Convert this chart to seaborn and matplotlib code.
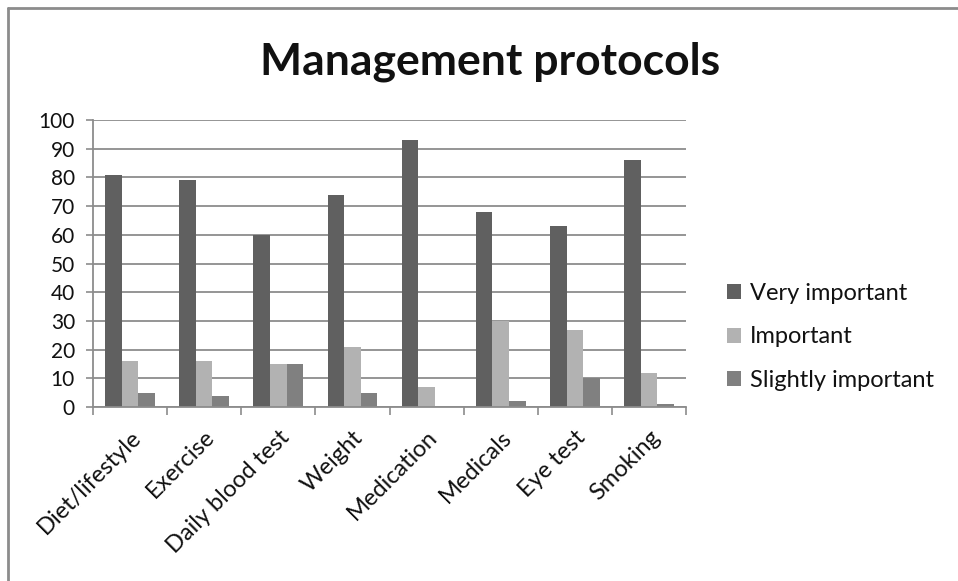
import matplotlib
matplotlib.use("Agg")
import matplotlib.pyplot as plt
import seaborn as sns
import pandas as pd
import numpy as np
from matplotlib.lines import Line2D
from matplotlib.patches import Patch

categories = ["Diet/lifestyle", "Exercise", "Daily blood test", "Weight",
              "Medication", "Medicals", "Eye test", "Smoking"]
very_important = [81, 79, 60, 74, 93, 68, 63, 86]
important = [16, 16, 15, 21, 7, 30, 27, 12]
slightly_important = [5, 4, 15, 5, 0, 2, 10, 1]
series_names = ["Very important", "Important", "Slightly important"]
colors = ["#606060", "#b2b2b2", "#808080"]
yticks = list(range(0, 101, 10))

df = pd.DataFrame({
    "category": categories * 3,
    "value": very_important + important + slightly_important,
    "series": [series_names[0]] * 8 + [series_names[1]] * 8 + [series_names[2]] * 8,
})

sns.set_style("white")
plt.rcParams["font.family"] = ["Lato", "DejaVu Sans"]
plt.rcParams["text.color"] = "#111111"
plt.rcParams["xtick.labelcolor"] = "#111111"
plt.rcParams["ytick.labelcolor"] = "#111111"

fig = plt.figure(figsize=(9.58, 5.81), dpi=100)
ax = fig.add_axes([93/958, 1 - 407/581, (686-93)/958, (407-120)/581])

sns.barplot(data=df, x="category", y="value", hue="series", palette=colors,
            hue_order=series_names, order=categories, width=0.67, ax=ax,
            saturation=1, edgecolor="none", legend=False)

ax.set_ylim(0, 100)
ax.set_xlim(-0.5, len(categories) - 0.5)
ax.set_yticks(yticks)
ax.set_yticklabels([str(t) for t in yticks], fontsize=15)
ax.yaxis.grid(True, color="#8c8c8c", linewidth=1.3)
ax.set_axisbelow(True)
ax.tick_params(axis="y", length=5, color="#8c8c8c", width=1.2, pad=8, direction="out", left=True)
ax.set_xticks(range(len(categories)))
ax.set_xticklabels(categories, rotation=45, ha="right", rotation_mode="anchor", fontsize=17)
ax.tick_params(axis="x", length=0, pad=14)
ax.set_xticks(np.arange(-0.5, len(categories) + 0.5, 1), minor=True)
ax.tick_params(axis="x", which="minor", length=6, color="#8c8c8c", width=1.2, bottom=True)
ax.set_xlabel("")
ax.set_ylabel("")
for s in ["top", "right"]:
    ax.spines[s].set_visible(False)
for s in ["left", "bottom"]:
    ax.spines[s].set_color("#8c8c8c")
    ax.spines[s].set_linewidth(1.3)

handles = [Patch(facecolor=c, edgecolor="none") for c in colors]
fig.legend(handles, series_names, loc="center left", bbox_to_anchor=(706/958, 1 - 337/581),
           frameon=False, fontsize=17, handlelength=0.6, handleheight=0.6,
           labelspacing=0.95, handletextpad=0.35)

fig.text(490/958, 1 - 62/581, "Management protocols", ha="center", va="center",
         fontsize=32, fontweight="bold")

fig.add_artist(Line2D([8/958, 8/958], [0, 1 - 8/581], transform=fig.transFigure,
                      color="#8c8c8c", linewidth=2))
fig.add_artist(Line2D([8/958, 1], [1 - 8/581, 1 - 8/581], transform=fig.transFigure,
                      color="#8c8c8c", linewidth=2))

fig.savefig("out.png", dpi=100)
